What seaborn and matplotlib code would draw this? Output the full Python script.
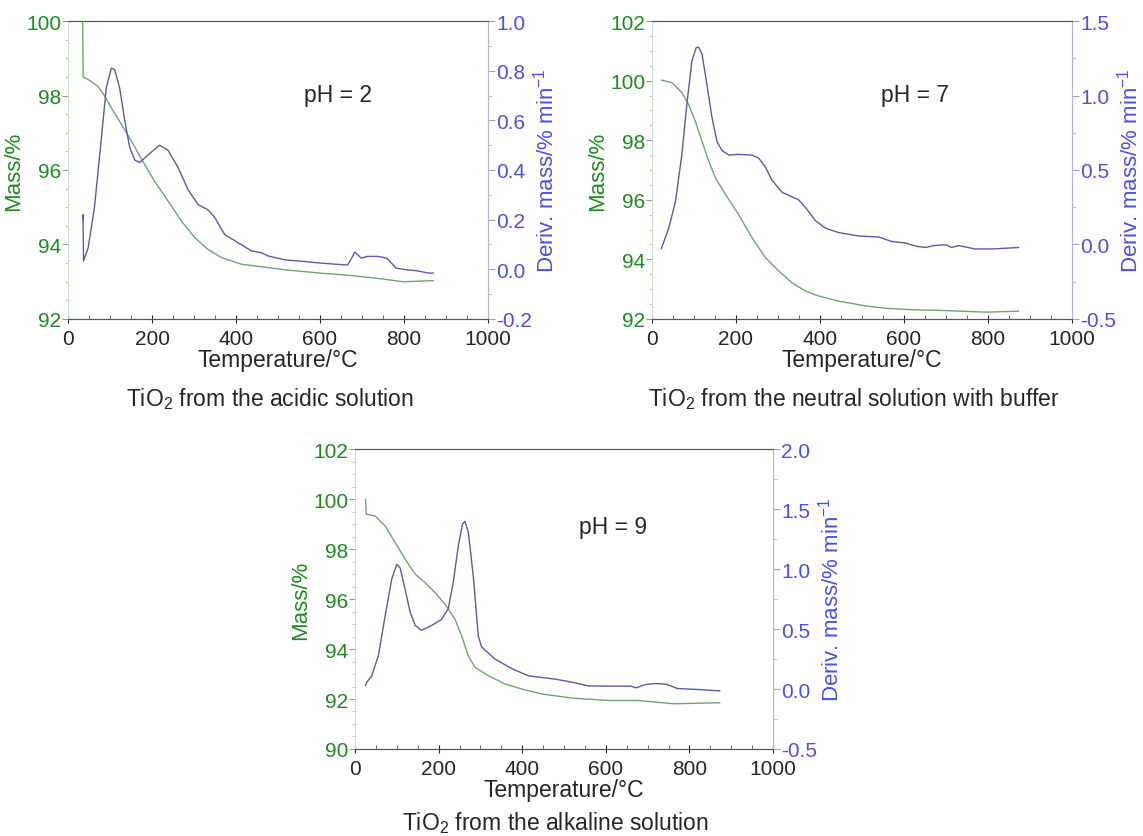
import matplotlib
matplotlib.use("Agg")
import matplotlib.pyplot as plt
import seaborn as sns
from matplotlib.ticker import MultipleLocator, FormatStrFormatter

# pH = 2, acidic solution
temp_mass_ph2 = [35, 36, 48, 71, 87, 103, 127, 151, 175, 206, 238, 270, 302, 333, 365, 413, 476, 517, 602,
                 662, 730, 798, 870]
mass_ph2 = [100.0, 98.5, 98.43, 98.25, 97.99, 97.67, 97.23, 96.78, 96.29, 95.7, 95.17, 94.63, 94.18, 93.87,
            93.65, 93.47, 93.38, 93.32, 93.23, 93.18, 93.1, 93.0, 93.03]
temp_deriv_ph2 = [35, 36, 36, 37, 48, 63, 79, 91, 103, 111, 123, 135, 147, 159, 171, 190, 218, 238, 262, 286,
                  310, 333, 349, 373, 405, 437, 460, 476, 491, 517, 560, 602, 627, 657, 666, 683, 690, 698, 713,
                  738, 759, 781, 806, 832, 857, 870]
deriv_ph2 = [0.20, 0.22, 0.19, 0.034, 0.087, 0.25, 0.52, 0.73, 0.81, 0.805, 0.73, 0.60, 0.49, 0.44, 0.43, 0.46,
             0.50, 0.48, 0.41, 0.32, 0.26, 0.24, 0.21, 0.14, 0.107, 0.074, 0.067, 0.054, 0.048, 0.038, 0.032,
             0.025, 0.022, 0.018, 0.018, 0.069, 0.058, 0.045, 0.052, 0.052, 0.045, 0.005, -0.002, -0.006,
             -0.015, -0.015]

# pH = 7, neutral solution with buffer
temp_mass_ph7 = [22, 48, 71, 87, 103, 119, 135, 151, 175, 206, 238, 270, 302, 333, 365, 397, 444, 508, 556,
                 619, 683, 795, 873]
mass_ph7 = [100.02, 99.93, 99.6, 99.2, 98.64, 97.97, 97.3, 96.74, 96.18, 95.51, 94.73, 94.06, 93.61, 93.22,
            92.94, 92.77, 92.6, 92.44, 92.36, 92.31, 92.29, 92.23, 92.26]
temp_deriv_ph7 = [22, 40, 56, 71, 83, 95, 105, 111, 119, 131, 143, 155, 167, 183, 206, 238, 254, 270, 286, 310,
                  333, 349, 365, 389, 413, 444, 492, 540, 571, 603, 631, 653, 670, 700, 713, 730, 752, 769, 812,
                  873]
deriv_ph7 = [-0.03, 0.11, 0.29, 0.60, 0.94, 1.23, 1.32, 1.325, 1.28, 1.07, 0.85, 0.69, 0.63, 0.60, 0.605, 0.60,
             0.58, 0.52, 0.43, 0.35, 0.32, 0.30, 0.25, 0.16, 0.11, 0.08, 0.057, 0.05, 0.02, 0.01, -0.013, -0.02,
             -0.007, -0.002, -0.02, -0.007, -0.02, -0.03, -0.03, -0.02]

# pH = 9, alkaline solution
temp_mass_ph9 = [25, 27, 48, 72, 96, 120, 144, 167, 191, 215, 239, 255, 271, 287, 319, 359, 399, 447, 478,
                 524, 609, 677, 737, 762, 873]
mass_ph9 = [100.0, 99.4, 99.33, 98.93, 98.27, 97.6, 97.0, 96.67, 96.27, 95.8, 95.2, 94.53, 93.73, 93.27, 92.93,
            92.6, 92.4, 92.2, 92.13, 92.03, 91.94, 91.94, 91.85, 91.81, 91.85]
temp_deriv_ph9 = [25, 28, 40, 56, 72, 88, 100, 108, 120, 132, 144, 159, 183, 207, 223, 235, 247, 257, 263, 271,
                  283, 295, 303, 335, 375, 415, 478, 524, 558, 609, 660, 673, 694, 719, 745, 771, 822, 873]
deriv_ph9 = [0.028, 0.056, 0.11, 0.28, 0.61, 0.92, 1.04, 1.01, 0.83, 0.64, 0.53, 0.49, 0.53, 0.58, 0.67, 0.89,
             1.19, 1.375, 1.40, 1.31, 0.94, 0.44, 0.35, 0.25, 0.17, 0.11, 0.083, 0.054, 0.026, 0.024, 0.024,
             0.01, 0.037, 0.046, 0.04, 0.004, -0.004, -0.016]

ph_labels = ["pH = 2", "pH = 7", "pH = 9"]
captions = ["TiO$_2$ from the acidic solution",
            "TiO$_2$ from the neutral solution with buffer",
            "TiO$_2$ from the alkaline solution"]

GREEN = "#1e8a22"
BLUE = "#4f4fe6"
MASS_LINE = "#72a472"
DERIV_LINE = "#5b5ba8"

sns.set_style("ticks")
plt.rcParams['font.family'] = ['Liberation Sans', 'DejaVu Sans']
plt.rcParams['mathtext.fontset'] = 'custom'
plt.rcParams['mathtext.rm'] = 'Liberation Sans'
plt.rcParams['mathtext.it'] = 'Liberation Sans:italic'

fig = plt.figure(figsize=(11.43, 8.37), dpi=100)


def draw_panel(rect, tm, m, td, d, mass_lim, deriv_lim, deriv_step, deriv_minor, ph, caption, ph_pos, cap_y):
    ax = fig.add_axes(rect)
    sns.lineplot(x=tm, y=m, ax=ax, color=MASS_LINE, linewidth=1.0, sort=False, estimator=None)
    ax.set_xlim(0, 1000)
    ax.set_ylim(*mass_lim)
    ax.xaxis.set_major_locator(MultipleLocator(200))
    ax.xaxis.set_minor_locator(MultipleLocator(50))
    ax.yaxis.set_major_locator(MultipleLocator(2))
    ax.yaxis.set_minor_locator(MultipleLocator(0.5))
    ax.set_xlabel("Temperature/°C", fontsize=16.5, labelpad=0)
    ax.set_ylabel("Mass/%", fontsize=16, color=GREEN, labelpad=1)
    ax.tick_params(axis='x', which='major', labelsize=15, direction='inout', length=6, pad=4)
    ax.tick_params(axis='x', which='minor', direction='in', length=3, color='#555555')
    ax.tick_params(axis='y', which='major', labelsize=15, labelcolor=GREEN, color='#999999', length=4, pad=1)
    ax.tick_params(axis='y', which='minor', color='#bbbbbb', length=2)
    ax.spines['left'].set_color('#c6e3c6')
    ax.spines['top'].set_color('#555555')
    ax.spines['bottom'].set_color('#555555')
    ax.spines['right'].set_visible(False)

    ax2 = ax.twinx()
    sns.lineplot(x=td, y=d, ax=ax2, color=DERIV_LINE, linewidth=1.0, sort=False, estimator=None)
    ax2.set_ylim(*deriv_lim)
    ax2.yaxis.set_major_locator(MultipleLocator(deriv_step))
    ax2.yaxis.set_minor_locator(MultipleLocator(deriv_minor))
    ax2.yaxis.set_major_formatter(FormatStrFormatter('%.1f'))
    ax2.set_ylabel("Deriv. mass/% min$^{-1}$", fontsize=16, color=BLUE, labelpad=0)
    ax2.tick_params(axis='y', which='major', labelsize=15, labelcolor=BLUE, color='#a0a0dd', length=5, pad=1)
    ax2.tick_params(axis='y', which='minor', color='#b8b8e6', length=3)
    ax2.spines['right'].set_color('#b4b4e4')
    ax2.spines['left'].set_visible(False)
    ax2.spines['top'].set_color('#555555')
    ax2.spines['bottom'].set_color('#555555')

    ax.text(ph_pos[0], ph_pos[1], ph, transform=ax.transAxes, fontsize=16.5, ha='center', va='center')
    ax.text(0.48, cap_y, caption, transform=ax.transAxes, fontsize=16.5, ha='center', va='center')
    return ax, ax2


draw_panel([0.0595, 0.6177, 0.3675, 0.356], temp_mass_ph2, mass_ph2, temp_deriv_ph2, deriv_ph2,
           (92, 100), (-0.2, 1.0), 0.2, 0.1, ph_labels[0], captions[0], (0.643, 0.755), -0.265)
draw_panel([0.5704, 0.6177, 0.3675, 0.356], temp_mass_ph7, mass_ph7, temp_deriv_ph7, deriv_ph7,
           (92, 102), (-0.5, 1.5), 0.5, 0.25, ph_labels[1], captions[1], (0.626, 0.755), -0.265)
draw_panel([0.3106, 0.104, 0.3657, 0.358], temp_mass_ph9, mass_ph9, temp_deriv_ph9, deriv_ph9,
           (90, 102), (-0.5, 2.0), 0.5, 0.25, ph_labels[2], captions[2], (0.617, 0.743), -0.245)

fig.savefig("out.png", dpi=100)
